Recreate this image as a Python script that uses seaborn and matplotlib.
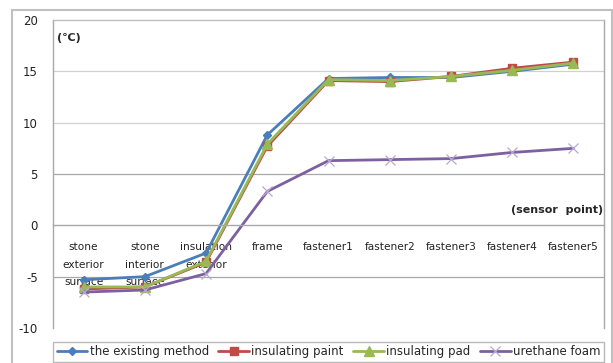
import matplotlib
matplotlib.use("Agg")
import matplotlib.pyplot as plt
import seaborn as sns
import pandas as pd
from matplotlib.patches import Rectangle

categories = ["stone\nexterior\nsurface", "stone\ninterior\nsurface", "insulation\nexterior",
              "frame", "fastener1", "fastener2", "fastener3", "fastener4", "fastener5"]
existing_method = [-5.3, -5.0, -2.7, 8.8, 14.3, 14.4, 14.4, 15.0, 15.7]
insulating_paint = [-6.2, -6.0, -3.6, 7.7, 14.1, 14.0, 14.5, 15.3, 15.9]
insulating_pad = [-6.0, -6.0, -3.5, 7.9, 14.2, 14.1, 14.5, 15.1, 15.8]
urethane_foam = [-6.5, -6.3, -4.7, 3.3, 6.3, 6.4, 6.5, 7.1, 7.5]
series_names = ["the existing method", "insulating paint", "insulating pad", "urethane foam"]
yticks = [-10, -5, 0, 5, 10, 15, 20]

sns.set_theme(style="white")
plt.rcParams['font.family'] = ['DejaVu Sans']

rows = []
for name, vals in zip(series_names, [existing_method, insulating_paint, insulating_pad, urethane_foam]):
    for i, v in enumerate(vals):
        rows.append({"x": i, "value": v, "series": name})
df = pd.DataFrame(rows)

colors = ["#4a7ebb", "#be4b48", "#98b954", "#7d60a0"]
markers = ["D", "s", "^", "x"]
msizes = [4.5, 6, 6.5, 7]

fig = plt.figure(figsize=(6.13, 3.63), dpi=100)
ax = fig.add_axes([53/613, 1-328/363, (604-53)/613, (328-20)/363])

for name, c, m, ms in zip(series_names, colors, markers, msizes):
    sub = df[df["series"] == name]
    sns.lineplot(data=sub, x="x", y="value", ax=ax, color=c, marker=m, markersize=ms,
                 linewidth=2, label=name, markeredgecolor=c if m != "x" else "#b9a8d0",
                 markeredgewidth=1 if m != "x" else 0.9)

ax.spines['bottom'].set_position(('data', 0))
for s in ['left', 'right', 'top', 'bottom']:
    ax.spines[s].set_color("#a8a8a8")
    ax.spines[s].set_linewidth(1)
ax.spines['top'].set_color("#c0c0c0")

ax.set_xlim(-0.5, len(categories)-0.5)
ax.set_ylim(-10, 20)
ax.set_yticks(yticks)
ax.set_yticklabels([str(t) for t in yticks], fontsize=8.5, color="#222222")
ax.tick_params(axis='y', length=0, pad=11)
ax.set_xticks(range(len(categories)))
ax.set_xticklabels(categories, fontsize=7.6, linespacing=1.95, color="#222222")
ax.tick_params(axis='x', length=0, pad=12)
ax.set_xlabel("")
ax.set_ylabel("")

for t in yticks:
    if t in (-10, 0, 20):
        continue
    ax.axhline(t, color="#d0d0d0" if t >= 10 else "#a8a8a8", linewidth=0.9, zorder=0)

ax.text(0.008, 0.94, "(\u2103)", transform=ax.transAxes, fontsize=8, fontweight='bold', ha='left', va='center')
ax.text(0.998, 0.383, "(sensor  point)", transform=ax.transAxes, fontsize=8, fontweight='bold',
        ha='right', va='center')

leg = ax.legend(loc='upper left', bbox_to_anchor=(0, -0.145, 1, 0.1), ncol=4, mode='expand',
                fontsize=8.5, frameon=True, fancybox=False, handlelength=2.6, handletextpad=0.2,
                borderaxespad=0, borderpad=0.3)
leg.get_frame().set_edgecolor("#a8a8a8")
leg.get_frame().set_linewidth(1)

fig.patches.append(Rectangle((12/613, -0.1), 600/613, 1.1 - 10/363, transform=fig.transFigure,
                             fill=False, edgecolor="#c0c0c0", linewidth=1.5, zorder=-1))

fig.savefig("out.png", dpi=100)
